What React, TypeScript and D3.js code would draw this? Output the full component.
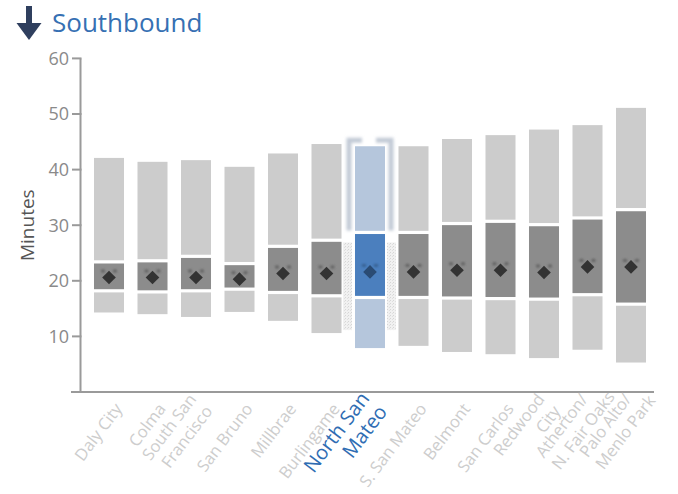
import React from "react";
import * as d3 from "d3";

const stations = [
  "Daly City",
  "Colma",
  "South San\nFrancisco",
  "San Bruno",
  "Millbrae",
  "Burlingame",
  "North San\nMateo",
  "S. San Mateo",
  "Belmont",
  "San Carlos",
  "Redwood\nCity",
  "Atherton/\nN. Fair Oaks",
  "Palo Alto/\nMenlo Park",
];
const maxMinutes = [42.1, 41.4, 41.7, 40.5, 42.9, 44.6, 44.2, 44.2, 45.5, 46.2, 47.2, 48.0, 51.1];
const upperQuartile = [23.4, 23.6, 24.4, 23.1, 26.2, 27.3, 28.7, 28.7, 30.3, 30.7, 30.1, 31.3, 32.8];
const lowerQuartile = [18.2, 18.0, 18.2, 18.5, 17.9, 17.3, 17.0, 17.0, 16.9, 16.8, 16.7, 17.5, 15.8];
const minMinutes = [14.3, 14.0, 13.5, 14.4, 12.8, 10.6, 7.9, 8.3, 7.2, 6.8, 6.1, 7.6, 5.3];
const medianMinutes = [20.6, 20.6, 20.6, 20.3, 21.3, 21.3, 21.6, 21.6, 21.9, 21.9, 21.5, 22.5, 22.5];
const yTicks = [0, 10, 20, 30, 40, 50, 60];
const highlighted = "North San\nMateo";

const W = 678;
const H = 494;
const FONT = "'Open Sans', 'DejaVu Sans', sans-serif";

let measureCtx: CanvasRenderingContext2D | null = null;
function textWidth(t: string, size: number): number {
  if (!measureCtx) {
    const c = document.createElement("canvas");
    measureCtx = c.getContext("2d");
  }
  if (!measureCtx) return t.length * size * 0.55;
  measureCtx.font = `${size}px 'Open Sans', 'DejaVu Sans', sans-serif`;
  return measureCtx.measureText(t).width;
}

export default function App() {
  const x = d3
    .scaleBand<string>()
    .domain(stations)
    .range([87.25, 652.75])
    .paddingInner(0.31)
    .paddingOuter(0.155);
  const y = d3.scaleLinear().domain([0, 60]).range([392, 58.4]);
  const bw = x.bandwidth();
  const gap = 1.6;
  const axisColor = "#9a9a9a";

  const hiIdx = stations.indexOf(highlighted);
  const hx = x(highlighted)!;

  return (
    <svg
      width={W}
      height={H}
      style={{ position: "absolute", left: 0, top: 0, background: "#fff" }}
      fontFamily={FONT}
    >
      <defs>
        <filter id="blur1" x="-50%" y="-50%" width="200%" height="200%">
          <feGaussianBlur stdDeviation="1.4" />
        </filter>
        <filter id="blur2" x="-50%" y="-50%" width="200%" height="200%">
          <feGaussianBlur stdDeviation="0.9" />
        </filter>
        <pattern id="speck" width="3" height="3" patternUnits="userSpaceOnUse">
          <rect width="3" height="3" fill="#f1f1f1" />
          <rect x="0" y="0" width="1" height="1" fill="#d6d6d6" />
          <rect x="2" y="1" width="1" height="1" fill="#e0e0e0" />
        </pattern>
      </defs>

      {/* Title */}
      <g>
        <rect x={26} y={6} width={6} height={19} fill="#2f3f5e" />
        <path d="M16.5,23 L41.5,23 L29,40 Z" fill="#2f3f5e" />
        <text x={52} y={32} fontSize={26} fill="#3670b3">
          Southbound
        </text>
      </g>

      {/* Highlight halo */}
      <g>
        <path
          d={`M${hx - 6},${y(upperQuartile[hiIdx]) - 2} V${y(maxMinutes[hiIdx]) - 6} H${hx + 7}`}
          fill="none"
          stroke="#c2cad6"
          strokeWidth={5}
          filter="url(#blur1)"
        />
        <path
          d={`M${hx + bw + 6},${y(upperQuartile[hiIdx]) - 2} V${y(maxMinutes[hiIdx]) - 6} H${hx + bw - 9}`}
          fill="none"
          stroke="#c2cad6"
          strokeWidth={5}
          filter="url(#blur1)"
        />
        <rect
          x={hx - 12}
          y={y(upperQuartile[hiIdx]) + 10}
          width={9}
          height={y(minMinutes[hiIdx]) - y(upperQuartile[hiIdx]) - 28}
          fill="url(#speck)"
        />
        <rect
          x={hx + bw + 2}
          y={y(upperQuartile[hiIdx]) + 10}
          width={9}
          height={y(minMinutes[hiIdx]) - y(upperQuartile[hiIdx]) - 28}
          fill="url(#speck)"
        />
      </g>

      {/* Bars */}
      {stations.map((s, i) => {
        const bx = x(s)!;
        const hi = s === highlighted;
        const light = hi ? "#b5c6dc" : "#cccccc";
        const dark = hi ? "#4b7fbe" : "#8c8c8c";
        const dia = hi ? "#2a4b74" : "#333333";
        const blob = hi ? "#2a4b74" : "#4a4a4a";
        const cx = bx + bw / 2;
        const cy = y(medianMinutes[i]);
        const r = 6.8;
        return (
          <g key={s}>
            <rect
              x={bx}
              y={y(maxMinutes[i])}
              width={bw}
              height={y(upperQuartile[i]) - gap - y(maxMinutes[i])}
              fill={light}
            />
            <rect
              x={bx}
              y={y(upperQuartile[i]) + gap}
              width={bw}
              height={y(lowerQuartile[i]) - y(upperQuartile[i]) - 2 * gap}
              fill={dark}
            />
            <rect
              x={bx}
              y={y(lowerQuartile[i]) + gap}
              width={bw}
              height={y(minMinutes[i]) - y(lowerQuartile[i]) - gap}
              fill={light}
            />
            <ellipse cx={cx - 6} cy={cy - 6.5} rx={2.2} ry={1.7} fill={blob} opacity={0.6} filter="url(#blur2)" />
            <ellipse cx={cx + 6} cy={cy - 6.5} rx={2.2} ry={1.7} fill={blob} opacity={0.6} filter="url(#blur2)" />
            <path
              d={`M${cx},${cy - r} L${cx + r},${cy} L${cx},${cy + r} L${cx - r},${cy} Z`}
              fill={dia}
            />
          </g>
        );
      })}

      {/* Y axis */}
      <g>
        <line x1={80.5} x2={80.5} y1={y(60)} y2={y(0)} stroke={axisColor} strokeWidth={2} />
        <line x1={71} x2={654} y1={y(0)} y2={y(0)} stroke={axisColor} strokeWidth={2} />
        {yTicks.map((t) => (
          <g key={t}>
            <line x1={72} x2={81.5} y1={y(t)} y2={y(t)} stroke={axisColor} strokeWidth={2} />
            {t > 0 && (
              <text
                x={69}
                y={y(t)}
                dy="0.35em"
                textAnchor="end"
                fontSize={18}
                fill="#8a8a8a"
              >
                {t}
              </text>
            )}
          </g>
        ))}
        <text
          transform={`translate(34, ${y(30)}) rotate(-90)`}
          textAnchor="middle"
          fontSize={19}
          fill="#555"
        >
          Minutes
        </text>
      </g>

      {/* X labels */}
      {stations.map((s) => {
        const hi = s === highlighted;
        const lines = s.split("\n");
        const cx = x(s)! + bw / 2;
        const fs = hi ? 20 : 16.5;
        const lh = hi ? 22 : 20;
        const firstW = textWidth(lines[0], fs);
        const shift = lines.length > 1 ? -6 : 0;
        return (
          <g key={s} transform={`translate(${cx + 10}, 406) rotate(-53)`}>
            {lines.map((ln, j) => {
              const ly = (j - (lines.length - 1) / 2) * lh + 5 + shift;
              const w = textWidth(ln, fs);
              const startAligned = j > 0 && w > firstW;
              return (
                <text
                  key={j}
                  x={startAligned ? -firstW : 0}
                  y={ly}
                  textAnchor={startAligned ? "start" : "end"}
                  fontSize={fs}
                  fill={hi ? "#2f6db3" : "#cdcdcd"}
                >
                  {ln}
                </text>
              );
            })}
          </g>
        );
      })}
    </svg>
  );
}
